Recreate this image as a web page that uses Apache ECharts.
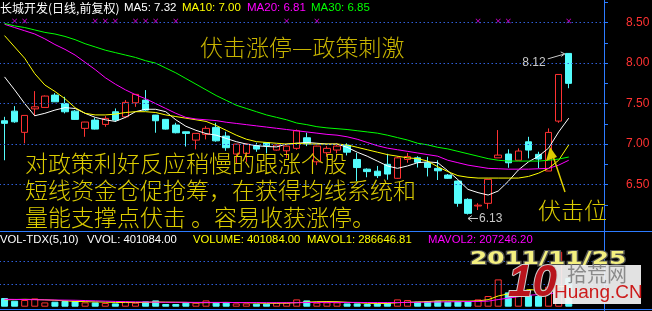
<!DOCTYPE html>
<html>
<head>
<meta charset="utf-8">
<script src="https://cdn.jsdelivr.net/npm/echarts@6/dist/echarts.min.js"></script>
<style>
html, body { margin: 0; padding: 0; background: #000; }
#main { width: 652px; height: 311px; }
</style>
</head>
<body>
<div id="main"></div>
<script>
// 日K数据 (开, 收, 低, 高)
const opens = [7.288,7.407,7.145,7.435,7.453,7.605,7.502,7.407,7.194,7.296,7.243,7.399,7.337,7.51,7.543,7.358,7.305,7.235,7.152,7.049,7.12,7.206,7.099,6.877,6.885,6.979,7.016,6.926,6.917,6.947,7.078,6.781,6.893,6.926,6.985,6.81,6.69,6.665,6.75,6.577,6.81,6.83,6.769,6.70,6.617,6.543,6.317,6.235,6.268,6.83,6.877,6.80,7.028,6.873,6.667,7.284,8.12]
const closes = [7.256,7.275,7.354,7.46,7.593,7.522,7.399,7.305,7.272,7.185,7.317,7.296,7.515,7.614,7.42,7.288,7.185,7.14,7.132,7.132,7.194,7.04,6.955,7.0,7.0,6.938,6.979,6.988,6.975,7.164,7.009,6.975,6.947,6.975,6.90,6.71,6.66,6.61,6.63,6.83,6.845,6.775,6.712,6.67,6.577,6.268,6.144,6.245,6.564,6.864,6.769,6.914,6.926,6.815,7.144,7.86,7.75]
const lows = [6.80,7.263,7.009,7.346,7.45,7.52,7.379,7.30,7.09,7.18,7.214,7.275,7.32,7.46,7.41,7.14,7.18,7.132,6.97,6.935,7.058,7.03,6.917,6.76,6.78,6.905,6.885,6.92,6.83,6.93,6.975,6.74,6.843,6.885,6.86,6.54,6.59,6.58,6.56,6.57,6.77,6.71,6.60,6.556,6.57,6.226,6.13,6.185,6.20,6.83,6.707,6.80,6.823,6.70,6.667,7.263,7.69]
const highs = [7.337,7.469,7.354,7.654,7.60,7.63,7.584,7.42,7.275,7.325,7.346,7.44,7.543,7.62,7.667,7.36,7.31,7.263,7.155,7.132,7.222,7.263,7.152,7.0,7.005,7.016,7.02,6.99,6.98,7.18,7.14,6.98,6.975,7.01,7.01,6.89,6.70,6.73,6.88,6.85,6.89,6.85,6.843,6.80,6.63,6.55,6.33,6.27,6.564,7.173,6.935,6.947,7.09,6.905,7.194,7.86,8.12]

// 均线
const ma5 = [7.83,7.67,7.50,7.35,7.38,7.42,7.45,7.44,7.38,7.33,7.30,7.28,7.33,7.40,7.43,7.43,7.40,7.30,7.22,7.17,7.13,7.11,7.07,7.03,7.00,6.98,6.97,6.965,7.00,7.01,7.02,7.01,7.00,7.00,6.96,6.90,6.85,6.79,6.73,6.70,6.73,6.77,6.78,6.77,6.67,6.56,6.44,6.40,6.37,6.42,6.54,6.68,6.78,6.85,6.95,7.15,7.32]
const ma10 = [8.34,8.20,8.06,7.87,7.73,7.65,7.56,7.45,7.38,7.36,7.36,7.37,7.39,7.40,7.40,7.39,7.36,7.34,7.32,7.30,7.28,7.23,7.17,7.11,7.06,7.03,7.02,7.01,7.00,7.01,7.00,7.00,7.00,7.00,6.99,6.96,6.93,6.90,6.87,6.85,6.83,6.82,6.79,6.72,6.66,6.61,6.59,6.58,6.58,6.58,6.58,6.58,6.60,6.64,6.70,6.80,6.99]
const ma20 = [8.48,8.44,8.40,8.36,8.30,8.23,8.17,8.10,8.01,7.92,7.82,7.74,7.67,7.61,7.56,7.50,7.44,7.38,7.33,7.31,7.30,7.29,7.27,7.255,7.24,7.225,7.21,7.195,7.18,7.165,7.15,7.135,7.12,7.11,7.09,7.06,7.02,6.98,6.95,6.93,6.91,6.89,6.87,6.85,6.80,6.77,6.74,6.72,6.70,6.695,6.69,6.69,6.69,6.695,6.70,6.74,6.80]
const ma30 = [8.49,8.46,8.44,8.41,8.38,8.36,8.33,8.29,8.24,8.20,8.16,8.13,8.10,8.07,8.03,8.00,7.94,7.88,7.81,7.74,7.67,7.60,7.54,7.48,7.44,7.40,7.36,7.33,7.30,7.26,7.24,7.215,7.20,7.19,7.18,7.165,7.15,7.135,7.11,7.08,7.05,7.01,6.99,6.96,6.94,6.91,6.88,6.85,6.82,6.80,6.79,6.79,6.79,6.79,6.80,6.815,6.84]

// 成交量
const volumes = [122000,84000,94000,116000,60000,70000,80000,80000,60000,60000,52000,46000,74000,56000,74000,88000,38000,38000,56000,56000,88000,56000,56000,46000,46000,42000,42000,56000,56000,102000,88000,56000,60000,60000,46000,46000,38000,46000,56000,102000,94000,70000,80000,84000,70000,80000,80000,102000,150000,382000,200000,168000,164000,150000,280000,770000,401084]
const mavol1 = [96000,100000,104000,100000,96000,90000,82000,74000,70000,68000,64000,60000,58000,58000,60000,66000,64000,62000,60000,54000,56000,58000,60000,58000,56000,52000,48000,48000,50000,56000,64000,70000,72000,70000,62000,56000,48000,46000,46000,56000,62000,66000,72000,80000,82000,80000,78000,82000,98000,150000,180000,200000,240000,230000,230000,280000,287000]
const mavol2 = [104000,102000,100000,98000,96000,94000,92000,90000,86000,82000,78000,74000,70000,68000,66000,64000,62000,62000,62000,60000,60000,60000,60000,58000,58000,58000,56000,56000,56000,56000,58000,60000,60000,60000,60000,60000,58000,58000,58000,58000,60000,62000,64000,66000,68000,70000,72000,74000,78000,100000,120000,140000,160000,170000,180000,200000,207000]

// 信号标记 (品红色 ×)
const signalIdx = [1,2,9,10,11,13,14,15,17,28,31,47,49,50,56]

const priceTicks = [6.5, 7.0, 7.5, 8.0, 8.5]
const volTicks = [318000, 640000]
const hiIdx = 56, hiVal = 8.12
const loIdx = 46, loVal = 6.13

// 右侧留3根空位
const days = Array.from({ length: 60 }, (_, i) => String(i + 1))

const UP = '#ff3232'
const DOWN = '#54fcfc'
const GRID_BLUE = '#2f5fd8'
const AXIS_BLUE = '#2d7bff'
const TEXT_Y = '#dccc00'

const candleData = opens.map((o, i) => [o, closes[i], lows[i], highs[i]])
const volData = volumes.map((v, i) => {
  const up = closes[i] >= opens[i]
  return {
    value: v,
    itemStyle: up
      ? { color: '#000', borderColor: UP, borderWidth: 1 }
      : { color: DOWN, borderColor: DOWN, borderWidth: 1 }
  }
})

const cross = 'path://M0,1L1,0L5,4L9,0L10,1L6,5L10,9L9,10L5,6L1,10L0,9L4,5Z'
const dotted = { color: GRID_BLUE, width: 1, type: [1.5, 2.5] }

function maLine (name, data, color, xi, yi) {
  return {
    name, type: 'line', data, xAxisIndex: xi, yAxisIndex: yi,
    symbol: 'none', smooth: false, silent: true,
    lineStyle: { color, width: 1 }
  }
}

function txt (x, y, text, fill, font, extra) {
  return Object.assign({
    type: 'text', x, y, silent: true, z: 100,
    style: { text, fill, font, textVerticalAlign: 'middle' }
  }, extra || {})
}

const chart = echarts.init(document.getElementById('main'), null, { renderer: 'canvas' })

const option = {
  backgroundColor: '#000',
  animation: false,
  grid: [
    { left: -0.5, right: 48, top: 0, bottom: 65.75, outerBoundsMode: 'none' },
    { left: -0.5, right: 48, top: 238, bottom: 4.3, outerBoundsMode: 'none' }
  ],
  xAxis: [
    { type: 'category', data: days, gridIndex: 0, boundaryGap: true, show: false },
    { type: 'category', data: days, gridIndex: 1, boundaryGap: true, show: false }
  ],
  yAxis: [
    {
      type: 'value', gridIndex: 0, position: 'right', min: 5.75, max: 8.78,
      splitLine: { show: false },
      axisLine: { show: false },
      axisTick: {
        show: true, length: 4, customValues: [6.25, 6.5, 6.75, 7.0, 7.25, 7.5, 7.75, 8.0, 8.25, 8.5, 8.75],
        lineStyle: { color: AXIS_BLUE }
      },
      axisLabel: {
        customValues: priceTicks, color: UP, fontSize: 12, margin: 22,
        fontFamily: 'Liberation Sans, Arial', formatter: v => v.toFixed(2)
      }
    },
    {
      type: 'value', gridIndex: 1, position: 'right', min: 0, max: 962000,
      splitLine: { show: false }, axisLine: { show: false },
      axisTick: { show: true, length: 4, customValues: volTicks, lineStyle: { color: AXIS_BLUE } },
      axisLabel: { show: false }
    }
  ],
  series: [
    {
      name: 'K', type: 'candlestick', data: candleData, barWidth: 7,
      xAxisIndex: 0, yAxisIndex: 0, silent: true,
      itemStyle: {
        color: '#000', color0: DOWN,
        borderColor: UP, borderColor0: DOWN, borderWidth: 1
      },
      markLine: {
        silent: true, symbol: 'none', label: { show: false },
        lineStyle: dotted,
        data: priceTicks.map(v => ({ yAxis: v }))
      }
    },
    maLine('MA5', ma5, '#ffffff', 0, 0),
    maLine('MA10', ma10, '#ffff00', 0, 0),
    maLine('MA20', ma20, '#ff00ff', 0, 0),
    maLine('MA30', ma30, '#00ff00', 0, 0),
    {
      name: 'signal', type: 'scatter', xAxisIndex: 0, yAxisIndex: 0, silent: true,
      symbol: cross, symbolSize: 5, itemStyle: { color: '#ff00ff' },
      data: signalIdx.map(i => [i, 8.52])
    },
    {
      name: 'VOL', type: 'bar', data: volData, barWidth: 7,
      xAxisIndex: 1, yAxisIndex: 1, silent: true,
      markLine: {
        silent: true, symbol: 'none', label: { show: false },
        lineStyle: dotted,
        data: volTicks.map(v => ({ yAxis: v }))
      }
    },
    maLine('MAVOL1', mavol1, '#ffff00', 1, 1),
    maLine('MAVOL2', mavol2, '#ff00ff', 1, 1)
  ]
}

chart.setOption(option)

// 标注 (依赖坐标换算)
const hp = chart.convertToPixel({ seriesIndex: 0 }, [hiIdx, hiVal])
const lp = chart.convertToPixel({ seriesIndex: 0 }, [loIdx, loVal])

const smallFont = '12px "Liberation Sans", Arial, sans-serif'
const headFont = '11.5px "Liberation Sans", Arial, sans-serif'
const volFont = '11.3px "Liberation Sans", Arial, sans-serif'
const cjkHead = '12px "Noto Sans CJK SC", sans-serif'
const bigFont = '300 23px "Noto Sans CJK SC", sans-serif'

const graphics = [
  // 分隔线与坐标轴
  { type: 'line', silent: true, z: 90, shape: { x1: 0, y1: 231.5, x2: 652, y2: 231.5 }, style: { stroke: AXIS_BLUE, lineWidth: 1 } },
  { type: 'line', silent: true, z: 90, shape: { x1: 0, y1: 309.5, x2: 652, y2: 309.5 }, style: { stroke: AXIS_BLUE, lineWidth: 1 } },
  { type: 'line', silent: true, z: 90, shape: { x1: 604.5, y1: 0, x2: 604.5, y2: 311 }, style: { stroke: AXIS_BLUE, lineWidth: 1 } },

  // 顶部标题
  txt(0, 8, '长城开发(日线,前复权)', '#ffffff', cjkHead),
  txt(124, 8, 'MA5: 7.32', '#ffffff', headFont),
  txt(182, 8, 'MA10: 7.00', '#ffff00', headFont),
  txt(247, 8, 'MA20: 6.81', '#ff00ff', headFont),
  txt(311, 8, 'MA30: 6.85', '#00ff00', headFont),

  // 量能标题
  txt(0, 240, 'VOL-TDX(5,10)', '#ffffff', volFont),
  txt(87, 240, 'VVOL: 401084.00', '#ffffff', volFont),
  txt(193, 240, 'VOLUME: 401084.00', '#ffff00', volFont),
  txt(307, 240, 'MAVOL1: 286646.81', '#ffff00', volFont),
  txt(428, 240, 'MAVOL2: 207246.20', '#ff00ff', volFont),

  // 注释文字
  txt(200, 47, '伏击涨停—政策刺激', '#c8b400', bigFont),
  txt(25, 163, '对政策利好反应稍慢的跟涨个股', TEXT_Y, bigFont),
  txt(25, 190.5, '短线资金仓促抢筹，在获得均线系统和', TEXT_Y, bigFont),
  txt(25, 217.5, '量能支撑点伏击 。容易收获涨停。', TEXT_Y, bigFont),
  txt(538, 210, '伏击位', TEXT_Y, bigFont),

  // 伏击位箭头
  { type: 'line', silent: true, z: 100, shape: { x1: 565, y1: 192, x2: 552, y2: 153 }, style: { stroke: TEXT_Y, lineWidth: 1.5 } },
  { type: 'polygon', silent: true, z: 100, shape: { points: [[550, 147], [546, 161], [557, 157]] }, style: { fill: TEXT_Y } },

  // 最高价标注
  txt(hp[0] - 46.5, hp[1] + 9, '8.12', '#c8c8c8', smallFont),
  { type: 'line', silent: true, z: 100, shape: { x1: hp[0] - 21, y1: hp[1] + 5.5, x2: hp[0] - 4, y2: hp[1] + 0.5 }, style: { stroke: '#c8c8c8', lineWidth: 1 } },
  { type: 'polyline', silent: true, z: 100, shape: { points: [[hp[0] - 8, hp[1] - 1.5], [hp[0] - 4, hp[1] + 0.5], [hp[0] - 7.5, hp[1] + 3]] }, style: { stroke: '#c8c8c8', lineWidth: 1, fill: null } },

  // 最低价标注
  txt(lp[0] + 11, lp[1] + 4, '6.13', '#c8c8c8', smallFont),
  { type: 'line', silent: true, z: 100, shape: { x1: lp[0] + 10, y1: lp[1] + 4, x2: lp[0], y2: lp[1] + 4 }, style: { stroke: '#c8c8c8', lineWidth: 1 } },
  { type: 'polyline', silent: true, z: 100, shape: { points: [[lp[0] + 4, lp[1] + 1], [lp[0], lp[1] + 4], [lp[0] + 4, lp[1] + 7]] }, style: { stroke: '#c8c8c8', lineWidth: 1, fill: null } },

  // 日期
  {
    type: 'text', silent: true, z: 110, x: 470, y: 260, scaleX: 1.55, scaleY: 1.05,
    style: {
      text: '2011/11/25', fill: '#f4f080', font: 'bold 16px "DejaVu Sans", sans-serif',
      textVerticalAlign: 'middle', stroke: '#505050', lineWidth: 2
    }
  },

  // 水印
  { type: 'rect', silent: true, z: 120, shape: { x: 553, y: 265, width: 88, height: 39 }, style: { fill: 'rgba(245,245,245,0.92)' } },
  txt(567, 274, '拾荒网', '#8a8a8a', '20px "Noto Sans CJK SC", sans-serif', { z: 121 }),
  txt(554, 293, 'Huang.CN', '#cc1a1a', '19px "Liberation Sans", Arial, sans-serif', { z: 121 }),
  {
    type: 'text', silent: true, z: 121, x: 508, y: 284,
    style: {
      text: '10', fill: '#b8141c', font: 'italic bold 44px "Liberation Sans", Arial, sans-serif',
      textVerticalAlign: 'middle', stroke: '#d0d0d0', lineWidth: 2
    }
  }
]

chart.setOption({ graphic: graphics })
</script>
</body>
</html>
